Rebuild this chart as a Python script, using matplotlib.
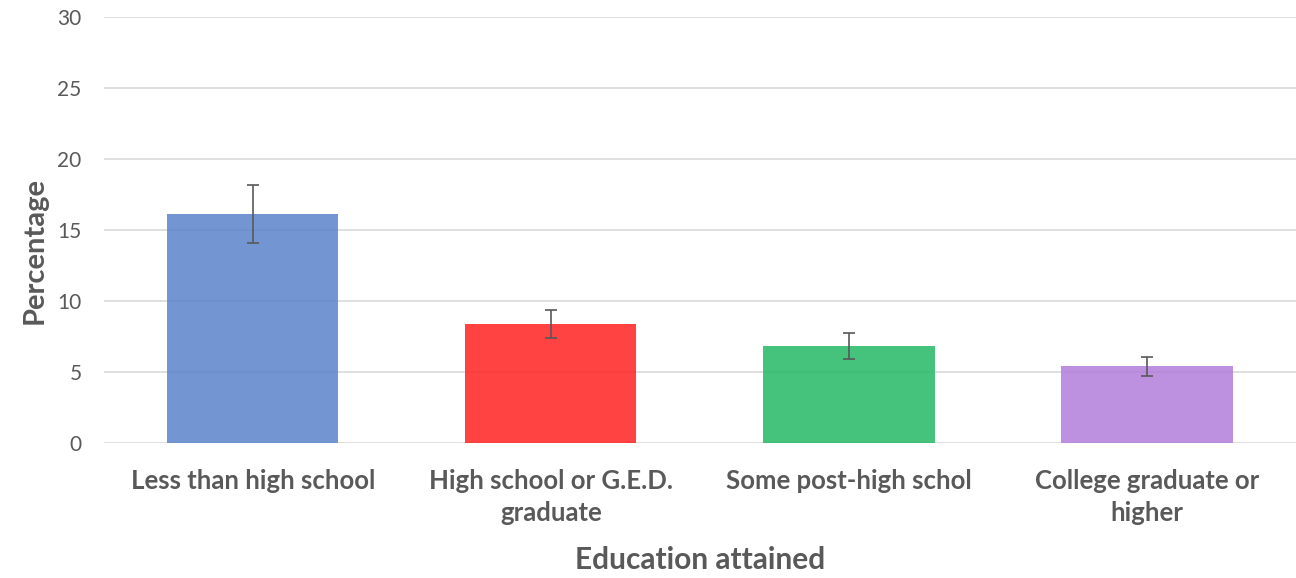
import matplotlib.pyplot as plt
import numpy as np

categories = ['Less than high school', 'High school or G.E.D.\ngraduate',
              'Some post-high schol', 'College graduate or\nhigher']
values = [16.1, 8.4, 6.85, 5.4]
errors = [2.05, 1.0, 0.92, 0.65]
colors = ['#5A83CA', '#FF2222', '#24B865', '#B27EDA']

plt.rcParams['font.family'] = ['Lato', 'DejaVu Sans']

fig = plt.figure(figsize=(12.96, 5.78), dpi=100)
ax = fig.add_axes([0.0802, 0.2336, 0.9198, 0.737])

x = np.arange(len(categories))
ax.bar(x, values, width=0.574, color=colors, alpha=0.85, zorder=2)
ax.errorbar(x, values, yerr=errors, fmt='none', ecolor='#595959',
            elinewidth=1.2, capsize=4.5, capthick=1.2, zorder=3)

ax.set_xlim(-0.5, len(categories) - 0.5)
ax.set_ylim(0, 30)
ax.set_yticks(range(0, 31, 5))
ax.yaxis.grid(True, color='#D9D9D9', linewidth=1.2, zorder=0)
ax.set_axisbelow(True)
for s in ax.spines.values():
    s.set_visible(False)

ax.set_xticks(x)
ax.set_xticklabels(categories, fontsize=18.5, fontweight='bold', color='#595959',
                   linespacing=1.4)
ax.tick_params(axis='x', length=0, pad=19)
ax.tick_params(axis='y', length=0, pad=16, labelsize=15, labelcolor='#595959')

ax.set_ylabel('Percentage', fontsize=21, fontweight='bold', color='#595959')
ax.yaxis.set_label_coords(-0.047, 0.453)
ax.set_xlabel('Education attained', fontsize=21.5, fontweight='bold', color='#595959', labelpad=15)

plt.savefig('out.png', dpi=100)
